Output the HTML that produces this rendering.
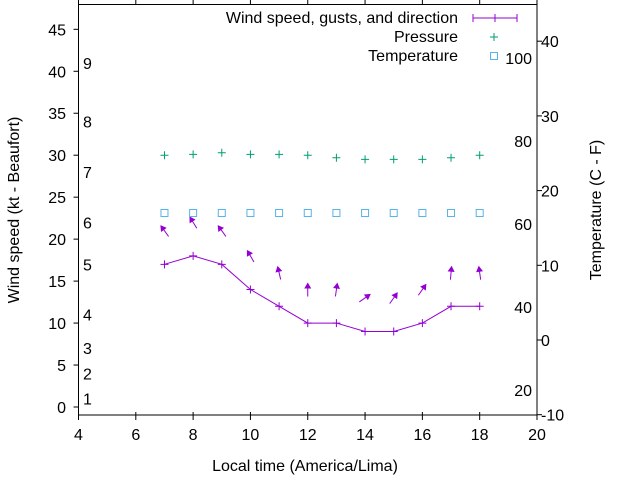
<!DOCTYPE html>
<html><head><meta charset="utf-8"><style>
body{margin:0;background:#fff}
svg{display:block;font-family:"Liberation Sans",sans-serif;font-size:16px}
</style></head><body>
<svg id="chart" width="640" height="480">
<g id="axes"></g><g id="marks"></g>
</svg>
<script>
const hours=[7,8,9,10,11,12,13,14,15,16,17,18];
const windSpeed=[17,18,17,14,12,10,10,9,9,10,12,12];
const gusts=[21,22,21,18,16,14,14,13,13,14,16,16];
const arrowAngle=[-36,-32,-36,-30,-13,0,8,55,35,35,5,-8];
const pressure=[30.0,30.1,30.3,30.1,30.1,30.0,29.7,29.5,29.5,29.5,29.7,30.0];
const tempC=[17,17,17,17,17,17,17,17,17,17,17,17];
const xTicks=[4,6,8,10,12,14,16,18,20];
const yTicks=[0,5,10,15,20,25,30,35,40,45];
const y2Ticks=[-10,0,10,20,30,40];
const fTicks=[20,40,60,80,100];
const beaufort=[[1,1],[2,4],[3,7],[4,11],[5,17],[6,22],[7,28],[8,34],[9,41]];
const L=78.5,R=537,T=4.5,B=415;
const X=v=>L+(v-4)*(R-L)/16;
const Y=v=>407-v*8.393;
const Y2=c=>340-c*7.47;
const YF=f=>Y2((f-32)*5/9);
const NS="http://www.w3.org/2000/svg";
const ax=document.getElementById('axes'),mk=document.getElementById('marks');
function el(p,t,a,txt){const e=document.createElementNS(NS,t);for(const k in a)e.setAttribute(k,a[k]);if(txt!==undefined)e.textContent=txt;p.appendChild(e);return e;}
let e=el(ax,'rect',{x:L,y:T,width:R-L,height:B-T,fill:'none',stroke:'#000','stroke-width':1});

xTicks.forEach(v=>{const x=X(v);
el(ax,'line',{x1:x,x2:x,y1:B-3,y2:B+5,stroke:'#000'});
el(ax,'line',{x1:x,x2:x,y1:0,y2:T,stroke:'#000'});
const t=el(ax,'text',{x:x,y:440,'text-anchor':'middle'},v);
});
yTicks.forEach(v=>{const y=Y(v);
el(ax,'line',{x1:L-5,x2:L,y1:y,y2:y,stroke:'#000'});
const t=el(ax,'text',{x:66,y:y+6,'text-anchor':'end'},v);
});
y2Ticks.forEach(v=>{const y=Y2(v);
el(ax,'line',{x1:R,x2:R+5,y1:y,y2:y,stroke:'#000'});
const t=el(ax,'text',{x:541,y:y+6},v);
});
fTicks.forEach(v=>{const t=el(ax,'text',{x:532,y:YF(v)+6,'text-anchor':'end'},v);
});
beaufort.forEach(b=>{const t=el(ax,'text',{x:83,y:Y(b[1])+6},b[0]);
});
e=el(ax,'text',{x:305,y:471,'text-anchor':'middle'},'Local time (America/Lima)');

e=el(ax,'text',{x:0,y:0,'text-anchor':'middle',transform:'translate(19,210) rotate(-90)'},'Wind speed (kt - Beaufort)');

e=el(ax,'text',{x:0,y:0,'text-anchor':'middle',transform:'translate(601,210) rotate(-90)'},'Temperature (C - F)');

// wind line
const pts=hours.map((h,i)=>X(h)+','+Y(windSpeed[i])).join(' ');
e=el(mk,'polyline',{points:pts,fill:'none',stroke:'#9400d3','stroke-width':1});

hours.forEach((h,i)=>{const x=X(h),y=Y(windSpeed[i]);
const g=el(mk,'path',{d:`M${x-4},${y}h8M${x},${y-4}v8`,stroke:'#9400d3'});

const cx=X(h),cy=Y(gusts[i]);
const a=el(mk,'g',{transform:`translate(${cx},${cy}) rotate(${arrowAngle[i]})`});

el(a,'line',{x1:0,y1:7,x2:0,y2:-6,stroke:'#9400d3'});
el(a,'path',{d:'M0,-7 L-3.5,-1 L3.5,-1 Z',fill:'#9400d3'});
const p=el(mk,'path',{d:`M${x-4},${Y(pressure[i])}h8M${x},${Y(pressure[i])-4}v8`,stroke:'#009e73'});

const s=el(mk,'rect',{x:x-3.5,y:Y2(tempC[i])-3.5,width:7,height:7,fill:'none',stroke:'#56b4e9'});
});
// legend
const lg=el(mk,'g',{});
[['Wind speed, gusts, and direction',23],['Pressure',42],['Temperature',61]].forEach(l=>{
const t=el(lg,'text',{x:458,y:l[1],'text-anchor':'end'},l[0]);
});
el(lg,'path',{d:'M473,18h44M473,14v8M495,14v8M517,14v8',stroke:'#9400d3'});
el(lg,'path',{d:'M490,37h8M494,33v8',stroke:'#009e73'});
el(lg,'rect',{x:490.5,y:52.5,width:7,height:7,fill:'none',stroke:'#56b4e9'});
</script>
</body></html>
